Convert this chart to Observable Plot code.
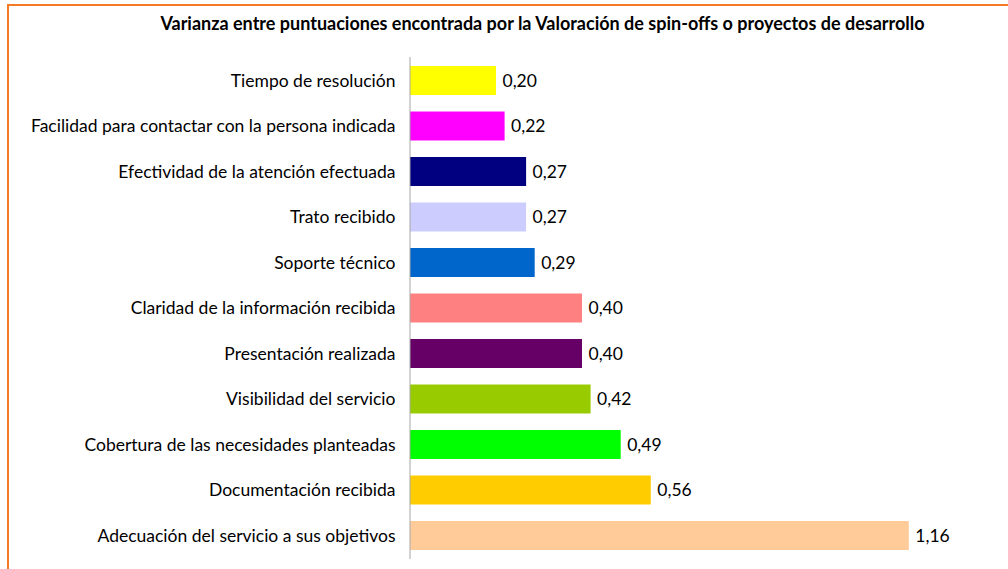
<!DOCTYPE html>
<html>
<head>
<meta charset="utf-8">
<script src="https://cdn.jsdelivr.net/npm/d3@7"></script>
<script src="https://cdn.jsdelivr.net/npm/@observablehq/plot@0.6"></script>
<style>
  html, body { margin: 0; padding: 0; background: #fff; overflow: hidden; }
  #wrap { position: relative; width: 1008px; height: 569px; }
  #frame { position: absolute; left: 7px; top: 4px; width: 1100px; height: 700px; border: 2px solid #F47A24; box-sizing: border-box; }
  #title { position: absolute; left: 0; width: 1085px; top: 12px; text-align: center; font-family: Lato, "Open Sans", sans-serif; font-weight: bold; font-size: 18px; color: #000; white-space: nowrap; }
  #chart { position: absolute; left: 0; top: 0; }
</style>
</head>
<body>
<div id="wrap">
  <div id="frame"></div>
  <div id="chart"></div>
  <div id="title">Varianza entre puntuaciones encontrada por la Valoración de spin-offs o proyectos de desarrollo</div>
</div>
<script>
const categories = [
  "Tiempo de resolución",
  "Facilidad para contactar con la persona indicada",
  "Efectividad de la atención efectuada",
  "Trato recibido",
  "Soporte técnico",
  "Claridad de la información recibida",
  "Presentación realizada",
  "Visibilidad del servicio",
  "Cobertura de las necesidades planteadas",
  "Documentación recibida",
  "Adecuación del servicio a sus objetivos"
];
const values = [0.20, 0.22, 0.27, 0.27, 0.29, 0.40, 0.40, 0.42, 0.49, 0.56, 1.16];
const colors = ["#FFFF00", "#FF00FF", "#000080", "#CCCCFF", "#0066CC", "#FF8080", "#660066", "#99CC00", "#00FF00", "#FFCC00", "#FFCC99"];

const data = categories.map((c, i) => ({category: c, value: values[i], color: colors[i]}));
const fmt = d3.formatLocale({decimal: ",", thousands: ".", grouping: [3], currency: ["", "€"]}).format(".2f");

const chart = Plot.plot({
  width: 1008,
  height: 569,
  marginLeft: 410,
  marginRight: 39,
  marginTop: 57,
  marginBottom: 10,
  style: {fontFamily: "Lato, 'Open Sans', sans-serif", fontSize: "17.5px", color: "#000", background: "transparent"},
  x: {domain: [0, 1.3], axis: null},
  y: {domain: categories, paddingInner: 0.363, paddingOuter: 0.198, round: false, label: null},
  marks: [
    Plot.axisY({tickSize: 0, tickPadding: 15, fontSize: 17.5, label: null}),
    Plot.barX(data, {y: "category", x: "value", fill: "color"}),
    Plot.ruleX([0], {stroke: "#A6A6A6", strokeWidth: 1, dx: -0.5}),
    Plot.text(data, {y: "category", x: "value", text: d => fmt(d.value), textAnchor: "start", dx: 6, fill: "#000", fontSize: 17.5})
  ]
});
document.getElementById("chart").appendChild(chart);
</script>
</body>
</html>
